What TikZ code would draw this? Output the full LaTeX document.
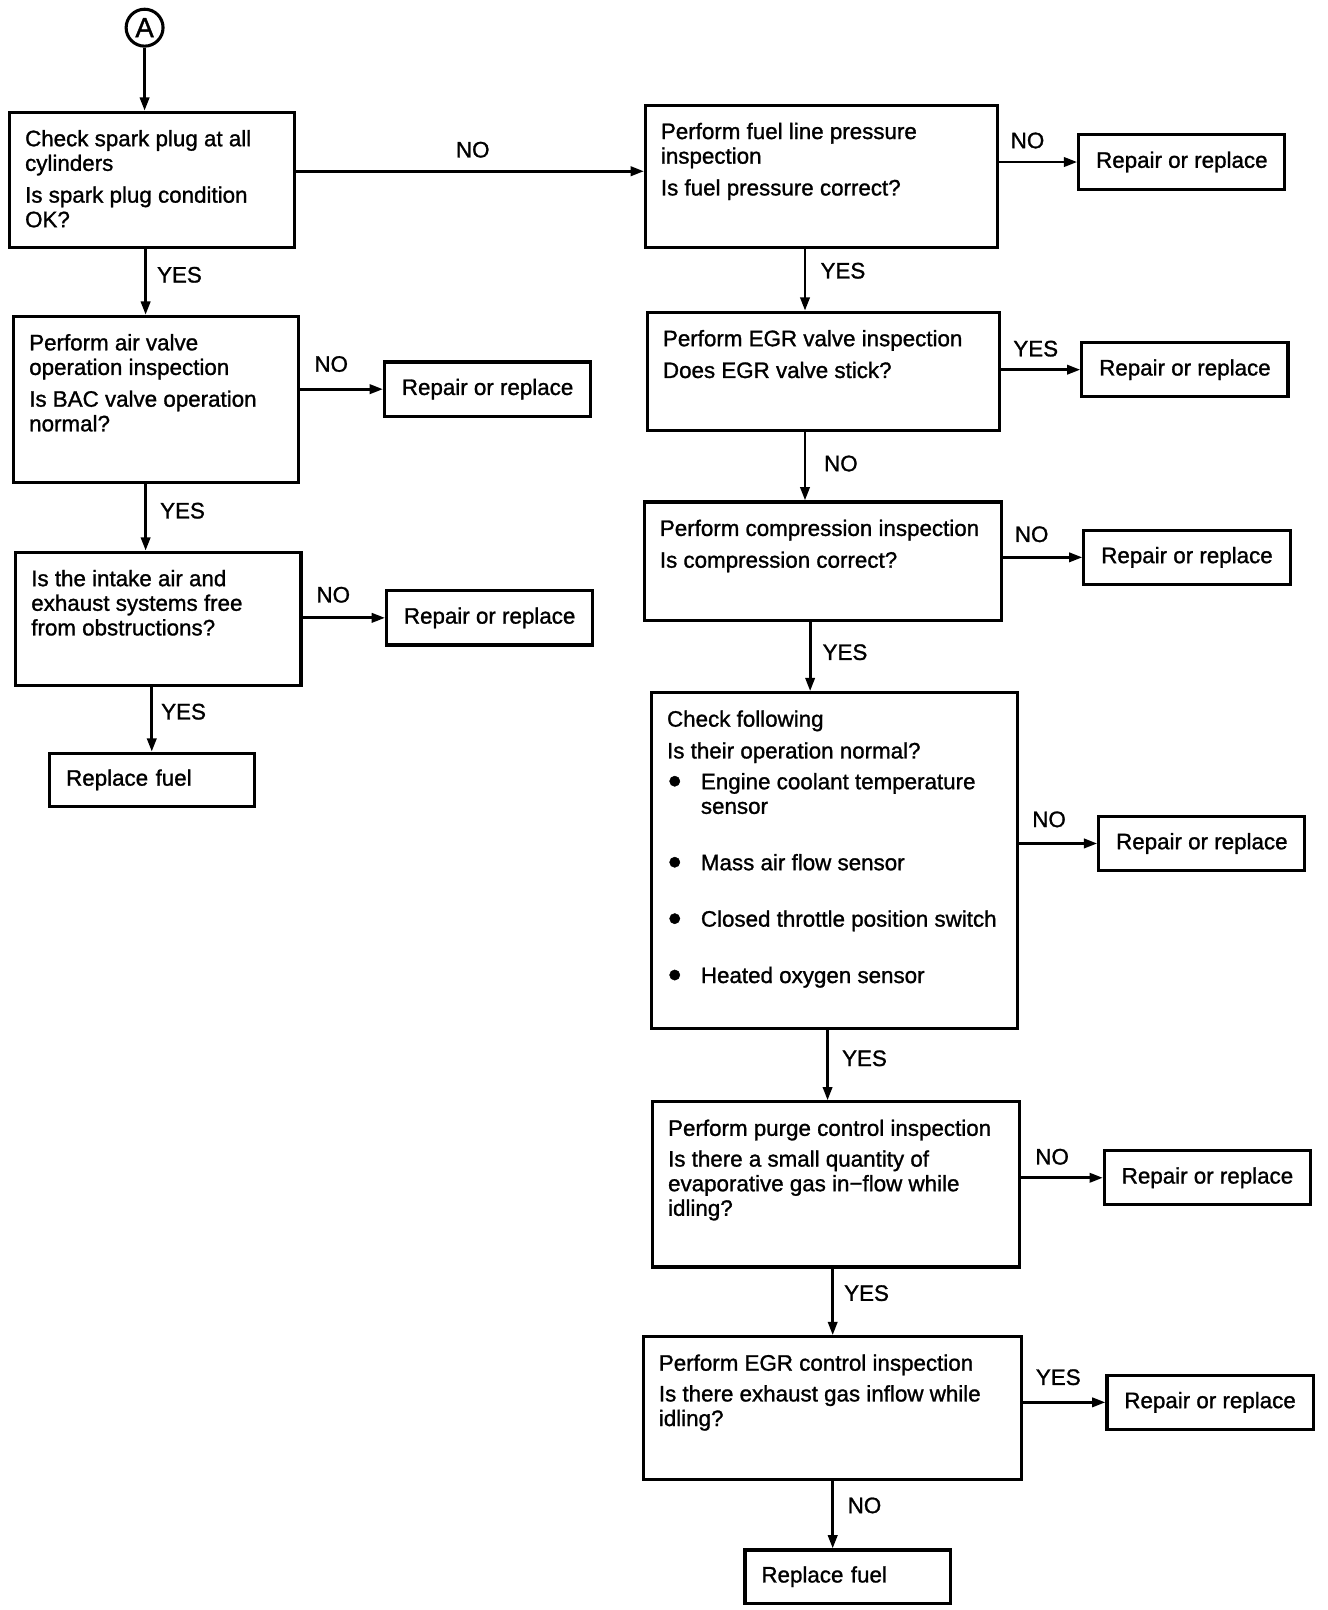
\documentclass[tikz,border=0pt]{standalone}
\usepackage{fontspec}
\setmainfont{Liberation Sans}[FakeBold=1.2]
\usetikzlibrary{arrows.meta}
\tikzset{
  qbox/.style={draw, line width=3pt, inner sep=0pt, anchor=north west},
  rbox/.style={draw, line width=3pt, inner sep=0pt, minimum width=201pt, minimum height=53pt},
  fbox/.style={draw, line width=3pt, inner xsep=16pt, inner ysep=0pt, text width=168pt, align=left, minimum height=52pt, anchor=north west},
  arr/.style={line width=2.8pt, -{Triangle[length=13pt,width=9pt]}},
  lbl/.style={inner sep=0pt},
  every node/.style={font=\fontsize{21.8pt}{24pt}\selectfont}
}
\newcommand{\qbox}[6]{%
  \node[qbox] (#1) at (#2,#3) {\parbox[t][#5pt][t]{#4pt}{\leftskip=15pt\rightskip=0pt plus 1fil\parindent=0pt\vspace*{16.3pt}\strut #6}};}
\newcommand{\bul}{\makebox[33pt][l]{\hspace{1pt}\raisebox{-4.5pt}{\scalebox{1.7}{\textbullet}}}}
\begin{document}
\begin{tikzpicture}[x=1pt,y=-1pt]
\path[fill=white] (0,0) rectangle (1295,1570);
\useasboundingbox (0,0) rectangle (1295,1570);
% start
\node[draw, circle, line width=3pt, minimum size=36pt, inner sep=0pt, font=\fontsize{27pt}{27pt}\selectfont] (A) at (141,27) {A};
% left column
\qbox{b1}{8}{108}{278}{132}{Check spark plug at all\\ cylinders\\[7pt] Is spark plug condition\\ OK?}
\qbox{b3}{12}{307}{278}{162}{Perform air valve\\ operation inspection\\[7pt] Is BAC valve operation\\ normal?}
\qbox{b4}{14}{537}{278}{130}{Is the intake air and\\ exhaust systems free\\ from obstructions?}
\node[fbox] (rf1) at (47,733) {Replace fuel};
% right column
\qbox{b2}{628}{101}{343}{139}{Perform fuel line pressure\\ inspection\\[7pt] Is fuel pressure correct?}
\qbox{b5}{630}{303}{343}{115}{Perform EGR valve inspection\\[7pt] Does EGR valve stick?}
\qbox{b6}{627}{488}{348}{116}{Perform compression inspection\\[7pt] Is compression correct?}
\qbox{b7}{634}{674}{357}{327}{Check following\\[7pt] Is their operation normal?\\[6pt] \bul Engine coolant temperature\\ \hspace*{33pt}sensor\\[31pt] \bul Mass air flow sensor\\[31pt] \bul Closed throttle position switch\\[31pt] \bul Heated oxygen sensor}
\qbox{b8}{635}{1073}{358}{161}{Perform purge control inspection\\[6pt] Is there a small quantity of\\ evaporative gas in−flow while\\ idling?}
\qbox{b9}{626}{1302}{369}{139}{Perform EGR control inspection\\[6pt] Is there exhaust gas inflow while\\ idling?}
\node[fbox] (rf2) at (725,1510) {Replace fuel};
% repair boxes
\node[rbox] (rp1) at (1152.5,158) {Repair or replace};
\node[rbox] (rp2) at (475.5,379.5) {Repair or replace};
\node[rbox] (rp3) at (477.5,602.5) {Repair or replace};
\node[rbox] (rp4) at (1155.5,360.5) {Repair or replace};
\node[rbox] (rp5) at (1157.5,543.5) {Repair or replace};
\node[rbox] (rp6) at (1172,822.5) {Repair or replace};
\node[rbox] (rp7) at (1177.5,1148.5) {Repair or replace};
\node[rbox] (rp8) at (1180,1367.5) {Repair or replace};
% connectors
\draw[arr] (A.south) -- (A.south |- b1.north);
\draw[arr] (b1.south -| 142,0) -- (b3.north -| 142,0);
\draw[arr] (b3.south -| 142,0) -- (b4.north -| 142,0);
\draw[arr] (b4.south -| 148,0) -- (rf1.north -| 148,0);
\draw[arr] (b1.east |- 0,167) -- (b2.west |- 0,167);
\draw[arr] (b3.east |- rp2.west) -- (rp2.west);
\draw[arr] (b4.east |- rp3.west) -- (rp3.west);
\draw[arr] (b2.east |- rp1.west) -- (rp1.west);
\draw[arr] (b5.east |- rp4.west) -- (rp4.west);
\draw[arr] (b6.east |- rp5.west) -- (rp5.west);
\draw[arr] (b7.east |- rp6.west) -- (rp6.west);
\draw[arr] (b8.east |- rp7.west) -- (rp7.west);
\draw[arr] (b9.east |- rp8.west) -- (rp8.west);
\draw[arr] (b2.south -| 785,0) -- (b5.north -| 785,0);
\draw[arr] (b5.south -| 785,0) -- (b6.north -| 785,0);
\draw[arr] (b6.south -| 790,0) -- (b7.north -| 790,0);
\draw[arr] (b7.south -| 807,0) -- (b8.north -| 807,0);
\draw[arr] (b8.south -| 812,0) -- (b9.north -| 812,0);
\draw[arr] (b9.south -| 812,0) -- (rf2.north -| 812,0);
% labels
\node[lbl] (l1) at (461,146) {NO};
\node[lbl] (l2) at (175,268) {YES};
\node[lbl] (l3) at (323,355) {NO};
\node[lbl] (l4) at (178,498) {YES};
\node[lbl] (l5) at (325,580) {NO};
\node[lbl] (l6) at (179,694) {YES};
\node[lbl] (l7) at (1002,137) {NO};
\node[lbl] (l8) at (822,264) {YES};
\node[lbl] (l9) at (1010,340) {YES};
\node[lbl] (l10) at (820,452) {NO};
\node[lbl] (l11) at (1006,521) {NO};
\node[lbl] (l12) at (824,636) {YES};
\node[lbl] (l13) at (1023,799) {NO};
\node[lbl] (l14) at (843,1032) {YES};
\node[lbl] (l15) at (1026,1128) {NO};
\node[lbl] (l16) at (845,1261) {YES};
\node[lbl] (l17) at (1032,1343) {YES};
\node[lbl] (l18) at (843,1468) {NO};
\end{tikzpicture}
\end{document}
